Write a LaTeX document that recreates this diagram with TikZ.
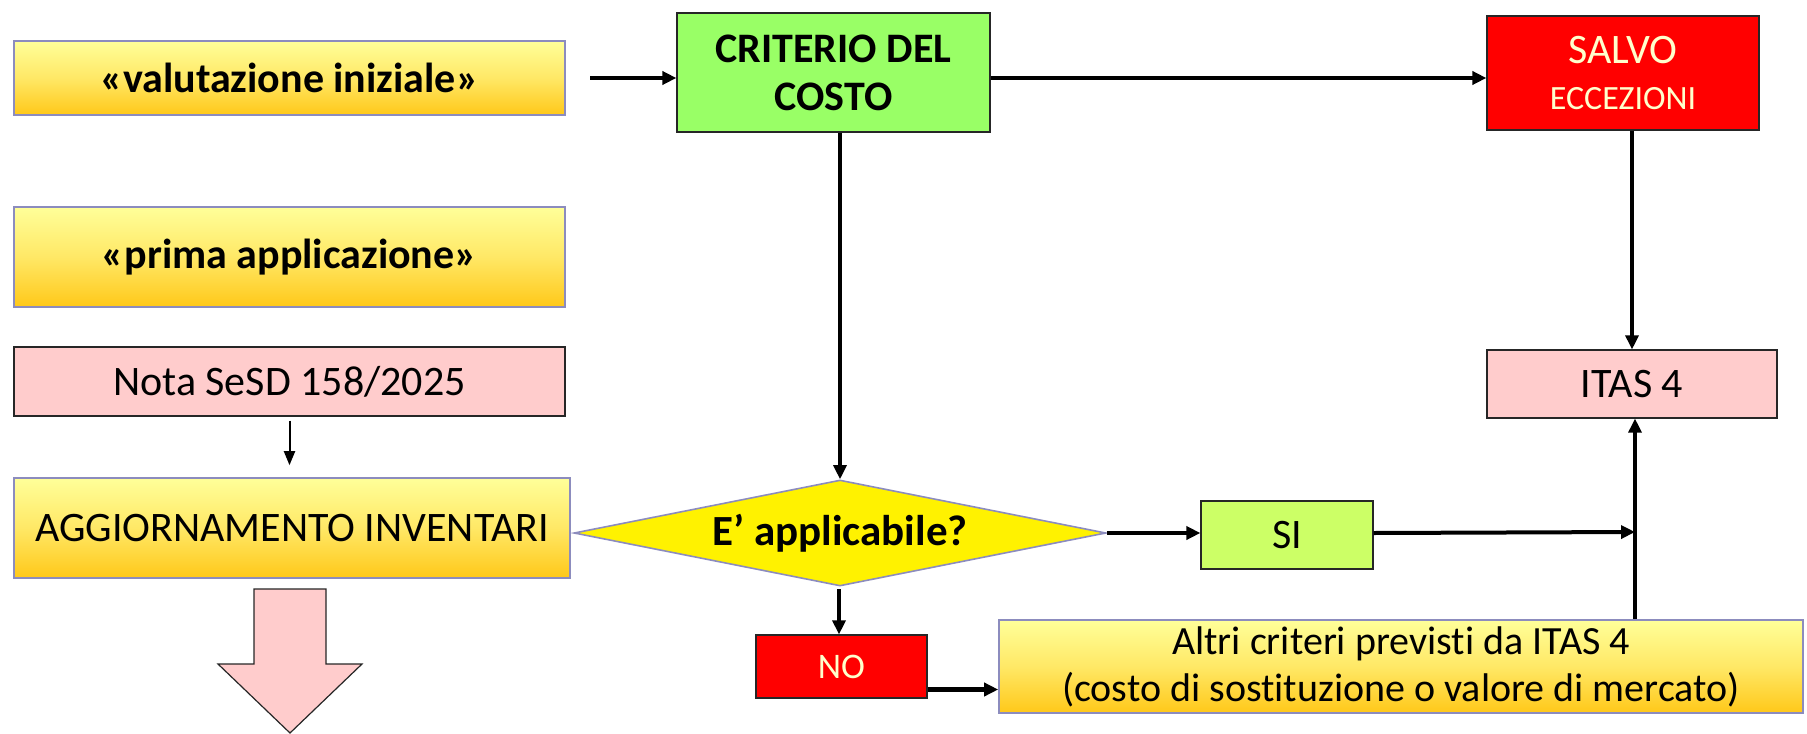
\documentclass[tikz,border=0pt]{standalone}
\usepackage{fontspec}
\setmainfont{Carlito}[Ligatures=NoCommon]
\usetikzlibrary{shapes.geometric,arrows.meta}
\definecolor{ylTop}{HTML}{FFFF99}
\definecolor{ylMid}{HTML}{FFE866}
\definecolor{ylBot}{HTML}{FFC819}
\definecolor{ylBorder}{HTML}{8C8CBE}
\definecolor{pinkF}{HTML}{FFCCCC}
\definecolor{greenA}{HTML}{99FF66}
\definecolor{greenB}{HTML}{CCFF66}
\definecolor{redF}{HTML}{FF0000}
\definecolor{creamT}{HTML}{FFFFCC}
\begin{document}
\begin{tikzpicture}[x=0.5pt,y=-0.5pt,
  txt/.style={font=\fontsize{21}{24}\selectfont},
  goldbox/.style={rectangle,draw=ylBorder,line width=0.8pt,top color=ylTop,bottom color=ylBot,middle color=ylMid,inner sep=0pt,align=center,txt},
  pinkbox/.style={rectangle,draw=black!85,line width=0.6pt,fill=pinkF,inner sep=0pt,align=center,txt},
  redbox/.style={rectangle,draw=black!85,line width=0.6pt,fill=redF,text=creamT,inner sep=0pt,align=center,txt},
  greenbox/.style={rectangle,draw=black!85,line width=0.6pt,inner sep=0pt,align=center,txt},
  arr/.style={-{Triangle[length=7pt,width=6.5pt]},line width=1.6pt},
  arrthin/.style={-{Triangle[length=7pt,width=5.5pt]},line width=1pt}
]
\useasboundingbox (0,0) rectangle (1807,733);

% boxes
\node[goldbox,minimum width=275.5pt,minimum height=37pt,font=\bfseries\fontsize{21}{24}\selectfont] (val) at (289.5,78) {«valutazione iniziale»};
\node[goldbox,minimum width=275.5pt,minimum height=50pt,font=\bfseries\fontsize{21}{24}\selectfont] (prima) at (289.5,257) {«prima applicazione»};
\node[pinkbox,minimum width=275.5pt,minimum height=34.5pt] (nota) at (289.5,381.5) {Nota SeSD 158/2025};
\node[goldbox,minimum width=278pt,minimum height=50pt] (agg) at (292,528) {AGGIORNAMENTO INVENTARI};

\node[greenbox,fill=greenA,minimum width=156.5pt,minimum height=59.5pt,font=\bfseries\fontsize{21}{24}\selectfont] (crit) at (833.5,72.5) {CRITERIO DEL\\COSTO};
\node[redbox,minimum width=136pt,minimum height=57pt] (salvo) at (1623,73) {SALVO\\[-1pt]{\fontsize{17}{20}\selectfont ECCEZIONI}};
\node[pinkbox,minimum width=145pt,minimum height=34pt] (itas) at (1632,384) {ITAS 4};

\node[diamond,aspect=5,draw=ylBorder,line width=0.8pt,fill=yellow,inner sep=0pt,minimum width=266pt,minimum height=53pt,font=\bfseries\fontsize{21.5}{24}\selectfont] (dia) at (840,533) {E’ applicabile?};

\node[greenbox,fill=greenB,minimum width=86pt,minimum height=34pt] (si) at (1287,535) {SI};
\node[redbox,minimum width=85.5pt,minimum height=31.5pt,font=\fontsize{18}{21}\selectfont] (no) at (841.5,666.5) {NO};
\node[goldbox,minimum width=402pt,minimum height=46.5pt,font=\fontsize{20}{23.5}\selectfont] (altri) at (1401,666.5) {Altri criteri previst\kern0pt i da ITAS 4\\(costo di sost\kern0pt ituzione o valore di mercato)};

% big pink arrow
\draw[fill=pinkF,draw=black!85,line width=0.6pt] (254,589) -- (326,589) -- (326,664) -- (362,664) -- (290,733) -- (218,664) -- (254,664) -- cycle;

% coordinates
\coordinate (vstart) at (590,78);
\coordinate (junc) at (1635,532);
\coordinate (nodrop) at (839,589);

% connectors
\draw[arr,line width=2pt] (vstart) -- (crit.west |- vstart);
\draw[arr,line width=2pt] (crit.east |- vstart) -- (salvo.west |- vstart);
\draw[arr] (dia.north |- crit.south) -- (dia.north);
\draw[arr] (itas.north |- salvo.south) -- (itas.north);
\draw[arrthin,shorten >=6pt,shorten <=2pt] (nota.south) -- (agg.north -| nota.south);
\draw[arr,line width=2pt] (dia.east) -- (si.west |- dia.east);
\draw[arr,line width=2pt] (si.east |- dia.east) -- (junc);
\draw[arr] (nodrop) -- (no.north -| nodrop);
\draw[arr,line width=2.2pt] ([yshift=-11.5pt]no.east) -- ([yshift=-11.5pt]altri.west);
\draw[arr] (altri.north -| junc) -- (itas.south -| junc);
\end{tikzpicture}
\end{document}
